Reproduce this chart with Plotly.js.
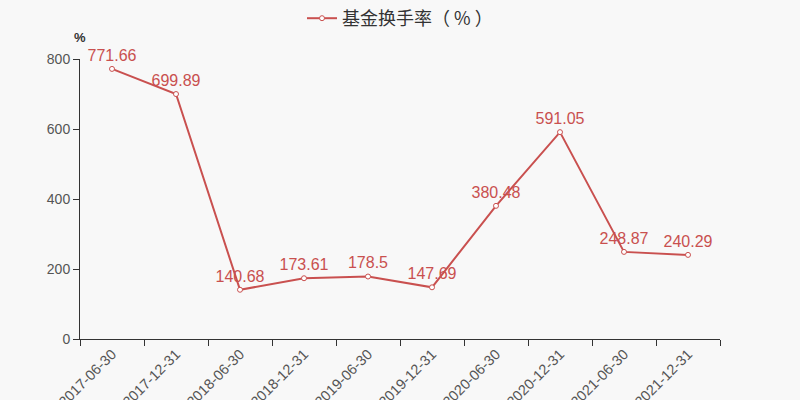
<!DOCTYPE html>
<html>
<head>
<meta charset="utf-8">
<script src="https://cdn.plot.ly/plotly-3.0.1.min.js"></script>
<style>
  html, body { margin: 0; padding: 0; background: #f8f8f8; }
  #plot { width: 800px; height: 400px; }
</style>
</head>
<body>
<div id="plot"></div>
<script>
// report dates and turnover rate (%)
var dates = ["2017-06-30", "2017-12-31", "2018-06-30", "2018-12-31", "2019-06-30",
             "2019-12-31", "2020-06-30", "2020-12-31", "2021-06-30", "2021-12-31"];
var turnover = [771.66, 699.89, 140.68, 173.61, 178.5, 147.69, 380.48, 591.05, 248.87, 240.29];
var yTicks = [0, 200, 400, 600, 800];

var red = "#c9504f";

var trace = {
  x: dates,
  y: turnover,
  name: "基金换手率（ % ）",
  type: "scatter",
  mode: "lines+markers+text",
  text: turnover.map(String),
  textposition: "top center",
  textfont: { size: 16, color: red },
  line: { color: red, width: 2 },
  marker: { size: 5, color: "#ffffff", line: { color: red, width: 1 } },
  cliponaxis: false,
  hoverinfo: "x+y"
};

var layout = {
  width: 800,
  height: 400,
  paper_bgcolor: "#f8f8f8",
  plot_bgcolor: "#f8f8f8",
  font: { family: "Liberation Sans, Noto Sans CJK SC, sans-serif", color: "#555" },
  margin: { l: 80, r: 80, t: 59, b: 61 },
  showlegend: true,
  legend: {
    orientation: "h",
    x: 0.5, xanchor: "center",
    yref: "container", y: 1.0, yanchor: "top",
    font: { size: 18, color: "#333", family: "Noto Sans CJK SC, sans-serif" },
    bgcolor: "rgba(0,0,0,0)"
  },
  xaxis: {
    type: "category",
    range: [-0.5, dates.length - 0.5],
    tickson: "boundaries",
    ticks: "outside",
    ticklen: 6,
    tickcolor: "#333",
    tickangle: -45,
    tickfont: { size: 14.5, color: "#555" },
    showline: true,
    linecolor: "#333",
    linewidth: 1,
    showgrid: false,
    zeroline: false,
    automargin: false,
    fixedrange: true
  },
  yaxis: {
    range: [0, 800],
    tickvals: yTicks,
    ticks: "outside",
    ticklen: 6,
    tickcolor: "#333",
    tickfont: { size: 14, color: "#555" },
    showline: true,
    linecolor: "#333",
    linewidth: 1,
    showgrid: false,
    zeroline: false,
    automargin: false,
    fixedrange: true
  },
  annotations: [{
    text: "<b>%</b>",
    xref: "paper", yref: "paper",
    x: 0, y: 1, xanchor: "center", yanchor: "bottom",
    yshift: 12,
    showarrow: false,
    font: { size: 13, color: "#333", family: "Liberation Sans, sans-serif" }
  }]
};

Plotly.newPlot("plot", [trace], layout, { displayModeBar: false, staticPlot: true });
</script>
</body>
</html>
